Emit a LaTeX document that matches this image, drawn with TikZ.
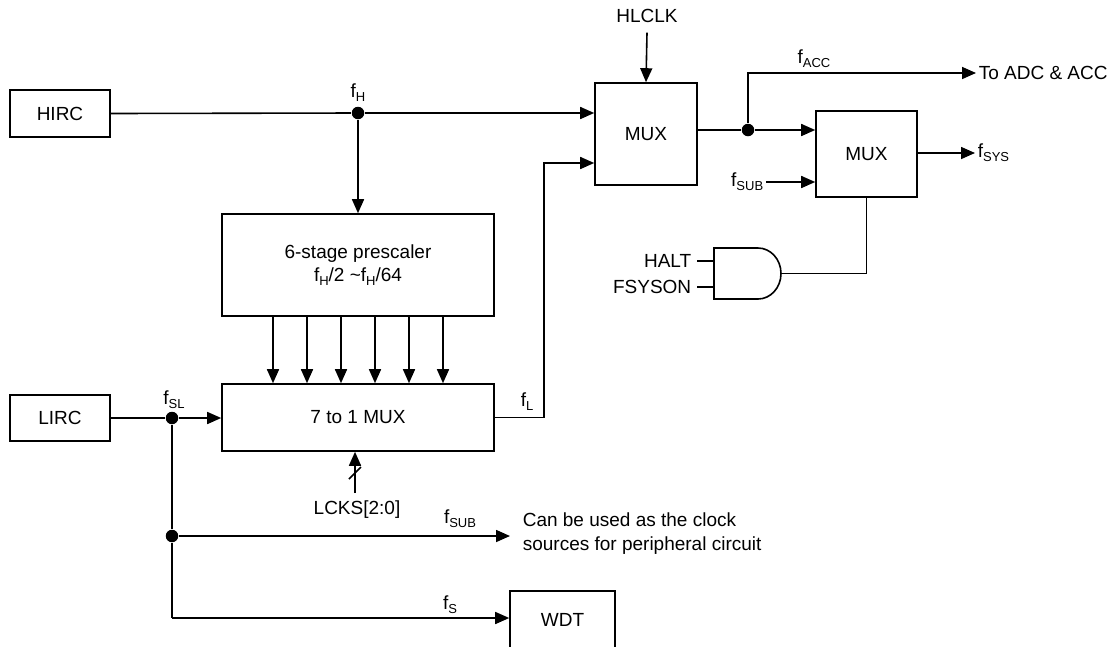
\documentclass[tikz,border=0pt]{standalone}
\usepackage{fontspec}
\setmainfont{Liberation Sans}
\usetikzlibrary{arrows.meta}
\newcommand\lsub[1]{\raisebox{-0.4ex}{\fontsize{13}{13}\selectfont #1}}
\begin{document}
\begin{tikzpicture}[x=1pt,y=-1pt, line width=1.6pt,
  every node/.style={font=\fontsize{19}{23.5}\selectfont, inner sep=0pt},
  blk/.style={draw, rectangle, line width=1.6pt},
  arr/.style={-{Triangle[length=14pt,width=12pt]}},
  dotn/.style={circle, fill, minimum size=12.5pt, inner sep=0pt}
]
\useasboundingbox (0,0) rectangle (1115,646);

% blocks
\node[blk, minimum width=100pt, minimum height=47pt] (hirc) at (60,113.5) {HIRC};
\node[blk, minimum width=100pt, minimum height=46pt] (lirc) at (60,418) {LIRC};
\node[blk, minimum width=272pt, minimum height=102pt, align=center] (presc) at (358,265)
  {6-stage prescaler\\f\lsub{H}/2 \textasciitilde f\lsub{H}/64};
\node[blk, minimum width=272pt, minimum height=67pt] (mux7) at (358,417.5) {7 to 1 MUX};
\node[blk, minimum width=102pt, minimum height=102pt] (mux1) at (646,134) {MUX};
\node[blk, minimum width=101pt, minimum height=86pt] (mux2) at (866.5,154) {MUX};
\node[blk, minimum width=105pt, minimum height=61pt] (wdt) at (562.5,621.5) {\raisebox{3pt}{WDT}};

% dots
\node[dotn] (fh) at (358,113) {};
\node[dotn] (facc) at (748,130) {};
\node[dotn] (fsl) at (172,418) {};
\node[dotn] (fsubdot) at (172,536) {};

% texts
\node (hlclk) at (647,16) {HLCLK};
\node (lfh) at (358,93) {f\lsub{H}};
\node (lfacc) at (814,59) {f\lsub{ACC}};
\node[anchor=west, inner xsep=2pt] (toadc) at (976,73) {To ADC \& ACC};
\node[anchor=west, inner xsep=2pt] (fsys) at (975,153) {f\lsub{SYS}};
\node[anchor=east, inner xsep=2pt] (fsub2) at (766,182) {f\lsub{SUB}};
\node (lfl) at (527,402) {f\lsub{L}};
\node (lfsl) at (174,400) {f\lsub{SL}};
\node (lfsub) at (460,519) {f\lsub{SUB}};
\node (lfs) at (450,605) {f\lsub{S}};
\node (lcks) at (357,510) {LCKS[2:0]};
\node[anchor=west, align=left] (cbtext) at (522,533.5) {Can be used as the clock\\sources for peripheral circuit};
\node[anchor=east, inner xsep=5pt] (halt) at (697,261) {HALT};
\node[anchor=east, inner xsep=5pt] (fsyson) at (697,287) {FSYSON};

% AND gate
\coordinate (a1) at (714,261);
\coordinate (a2) at (714,287);
\coordinate (andout) at (781,273.5);
\draw (714,248) -- (758,248) arc[start angle=-90, end angle=90, x radius=23, y radius=25.5] -- (714,299) -- cycle;
\draw (halt.east) -- (a1);
\draw (fsyson.east) -- (a2);

% connectors
\draw (hirc.east) -- (fh);
\draw[arr] (fh) -- (fh -| mux1.west);
\draw[arr] (fh) -- (presc.north);
\foreach \x [count=\i] in {273,307,341,375,409,443} {
  \coordinate (c\i) at (\x,350);
  \draw[arr] (presc.south -| c\i) -- (mux7.north -| c\i);
}
\coordinate (fl) at (544,163);
\draw[arr] (mux7.east) -| (fl) -- (fl -| mux1.west);
\draw[arr] (hlclk.south) ++(0,9) -- (mux1.north);
\draw (mux1.east |- facc) -- (facc);
\draw[arr] (facc) -- (facc -| mux2.west);
\draw[arr] (facc) |- (toadc.west);
\draw[arr] (fsub2.east) -- (fsub2.east -| mux2.west);
\draw[arr] (mux2.east |- fsys) -- (fsys.west);
\draw (mux2.south) |- (andout);

\draw (lirc.east) -- (fsl);
\draw[arr] (fsl) -- (fsl -| mux7.west);
\coordinate (bot) at (172,618);
\draw (fsl) -- (fsubdot) -- (bot);
\draw[arr] (bot) -- (bot -| wdt.west);
\draw[arr, shorten >=12pt] (fsubdot) -- (fsubdot -| cbtext.west);

\coordinate (lk) at (355,493);
\draw[arr] (lk) -- (lk |- mux7.south);
\draw (349,479) -- (361,467);
\end{tikzpicture}
\end{document}
